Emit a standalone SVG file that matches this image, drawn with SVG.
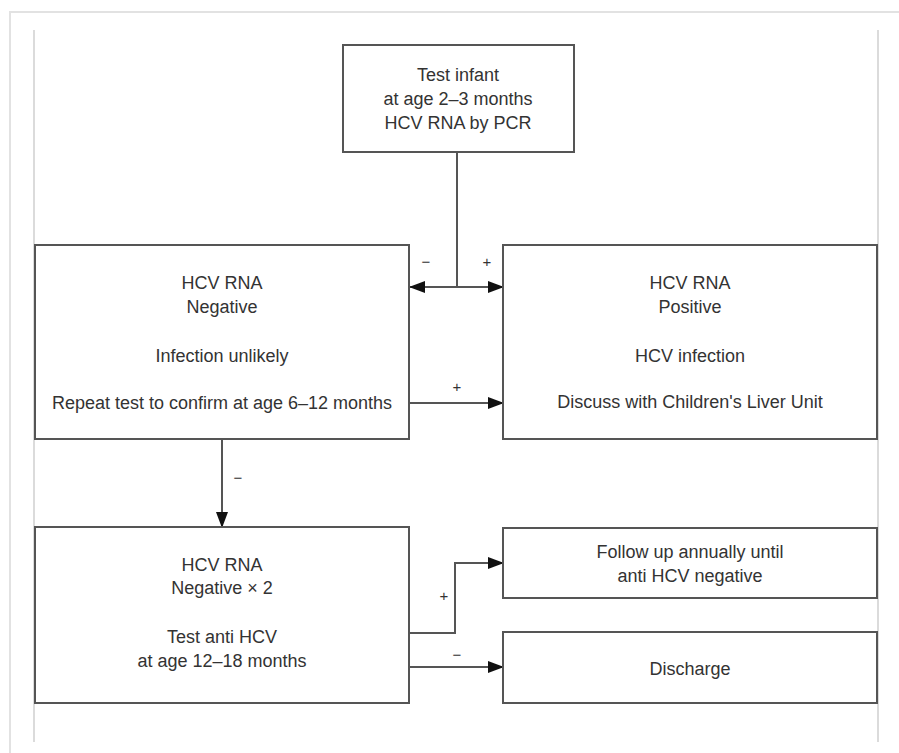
<svg xmlns="http://www.w3.org/2000/svg" width="899" height="753" viewBox="0 0 899 753">
<style>
.box{fill:#fff;stroke:#555;stroke-width:2}
.t{font-family:"Liberation Sans",Arial,sans-serif;font-size:18px;fill:#333;text-anchor:middle}
.lbl{font-family:"Liberation Sans",Arial,sans-serif;font-size:15px;fill:#333;text-anchor:middle}
.c{fill:none;stroke:#555;stroke-width:2}
.frame{stroke:#e2e2e2;stroke-width:2;fill:none}
.inner{stroke:#cfcfcf;stroke-width:1.5;fill:none}
</style>
<defs>
<marker id="ah" markerWidth="16" markerHeight="12" refX="15" refY="6" orient="auto-start-reverse" markerUnits="userSpaceOnUse">
<path d="M0,0 L16,6 L0,12 Z" fill="#111"/>
</marker>
</defs>
<rect width="899" height="753" fill="#fff"/>
<g id="frame">
<path class="frame" d="M10,753 L10,12 L899,12"/>
<line class="inner" x1="34" y1="30" x2="34" y2="742"/>
<line class="inner" x1="878" y1="30" x2="878" y2="742"/>
</g>
<g id="connectors">
<line class="c" x1="457" y1="152" x2="457" y2="287"/>
<line class="c" x1="410" y1="287" x2="503" y2="287" marker-start="url(#ah)" marker-end="url(#ah)"/>
<line class="c" x1="409" y1="403" x2="503" y2="403" marker-end="url(#ah)"/>
<line class="c" x1="222" y1="439" x2="222" y2="527" marker-end="url(#ah)"/>
<polyline class="c" points="409,633 455,633 455,563 503,563" marker-end="url(#ah)"/>
<line class="c" x1="409" y1="667" x2="503" y2="667" marker-end="url(#ah)"/>
<text class="lbl" x="426" y="267">−</text>
<text class="lbl" x="487" y="267">+</text>
<text class="lbl" x="457" y="392">+</text>
<text class="lbl" x="238" y="483">−</text>
<text class="lbl" x="444" y="601">+</text>
<text class="lbl" x="457" y="660">−</text>
</g>
<g id="start">
<rect class="box" x="343" y="45" width="231" height="107"/>
<text class="t" x="458" y="81">Test infant</text>
<text class="t" x="458" y="105">at age 2–3 months</text>
<text class="t" x="458" y="129">HCV RNA by PCR</text>
</g>
<g id="negative">
<rect class="box" x="35" y="245" width="374" height="194"/>
<text class="t" x="222" y="289">HCV RNA</text>
<text class="t" x="222" y="313">Negative</text>
<text class="t" x="222" y="362">Infection unlikely</text>
<text class="t" x="222" y="409">Repeat test to confirm at age 6–12 months</text>
</g>
<g id="positive">
<rect class="box" x="503" y="245" width="374" height="194"/>
<text class="t" x="690" y="289">HCV RNA</text>
<text class="t" x="690" y="313">Positive</text>
<text class="t" x="690" y="362">HCV infection</text>
<text class="t" x="690" y="408">Discuss with Children's Liver Unit</text>
</g>
<g id="negative2">
<rect class="box" x="35" y="527" width="374" height="176"/>
<text class="t" x="222" y="571">HCV RNA</text>
<text class="t" x="222" y="594">Negative × 2</text>
<text class="t" x="222" y="643">Test anti HCV</text>
<text class="t" x="222" y="667">at age 12–18 months</text>
</g>
<g id="followup">
<rect class="box" x="503" y="528" width="374" height="70"/>
<text class="t" x="690" y="558">Follow up annually until</text>
<text class="t" x="690" y="582">anti HCV negative</text>
</g>
<g id="discharge">
<rect class="box" x="503" y="632" width="374" height="71"/>
<text class="t" x="690" y="675">Discharge</text>
</g>
</svg>
